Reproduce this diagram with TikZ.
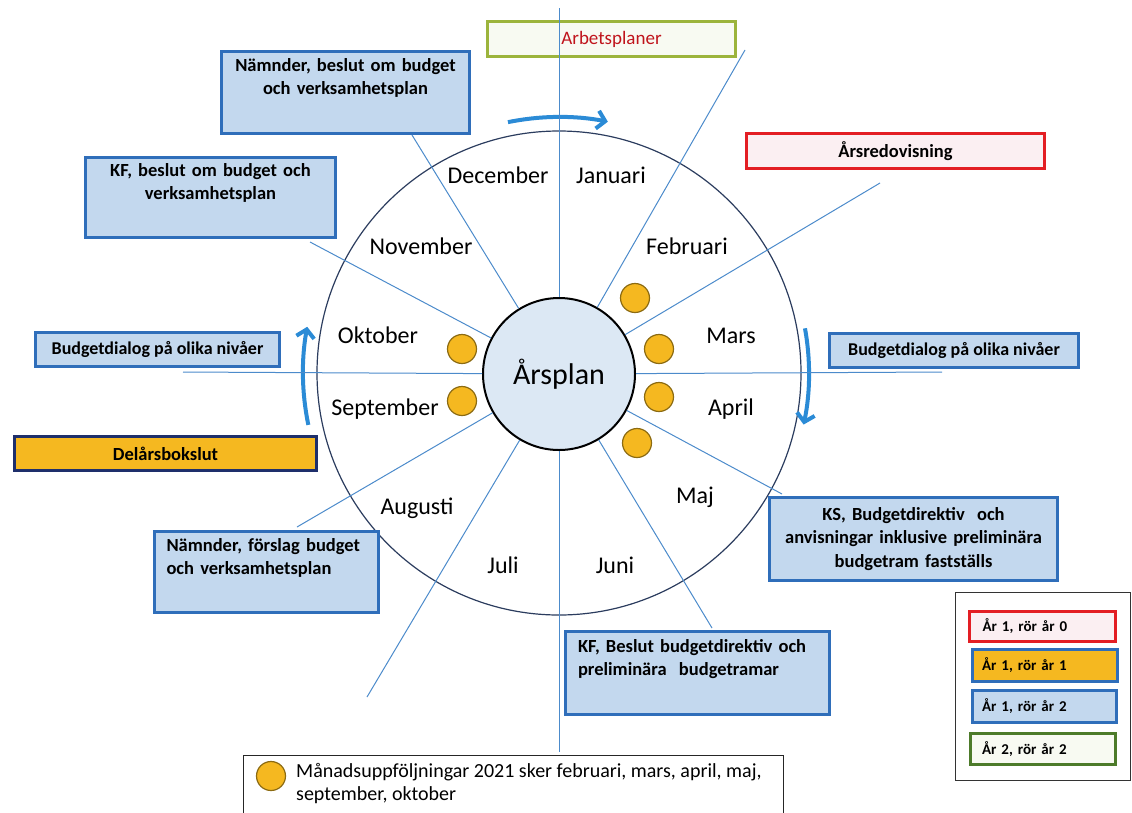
\documentclass[tikz,border=0pt]{standalone}
\usepackage{fontspec}
\setmainfont{Carlito}
\usetikzlibrary{arrows.meta,calc}

\definecolor{boxfill}{HTML}{C3D8EE}
\definecolor{boxedge}{HTML}{2F6EBA}
\definecolor{spoke}{HTML}{4C8BCB}
\definecolor{rim}{HTML}{2B3C5E}
\definecolor{cycblue}{HTML}{2B8BD6}
\definecolor{gold}{HTML}{F5B820}
\definecolor{dotedge}{HTML}{8C6B12}
\definecolor{navy}{HTML}{1E2F6B}
\definecolor{alarm}{HTML}{E31E24}
\definecolor{blush}{HTML}{FBEFF2}
\definecolor{olive}{HTML}{9CB43C}
\definecolor{paleg}{HTML}{F8FAF2}
\definecolor{darkgreen}{HTML}{4D7B2A}
\definecolor{textred}{HTML}{C0141C}
\definecolor{hubfill}{HTML}{DCE8F4}

\tikzset{
  month/.style={anchor=base, font=\fontsize{24}{28}\selectfont},
  boxtext/.style={font=\bfseries\fontsize{18.5}{23.5}\selectfont},
  bluebox/.style={draw=boxedge, fill=boxfill, line width=3pt, boxtext},
  legtext/.style={font=\bfseries\fontsize{15}{18}\selectfont, align=left},
  dot/.style={circle, draw=dotedge, fill=gold, line width=1.2pt, minimum size=29pt, inner sep=0pt},
  spokeline/.style={draw=spoke, line width=1pt},
  cyc/.style={draw=cycblue, line width=4pt, -{Straight Barb[length=8pt, width=18pt]}}
}

\begin{document}
\begin{tikzpicture}[x=1pt, y=-1pt]
  \useasboundingbox (0,0) rectangle (1132,812);
  \coordinate (c) at (559,373);
  \draw[rim, line width=1.2pt] (c) circle (242);
  \node[circle, draw, line width=2pt, fill=hubfill, minimum size=152pt, inner sep=0pt,
        font=\fontsize{30}{34}\selectfont] (ars) at (559,374) {Årsplan};

  \coordinate (e0) at (942,372);
  \coordinate (e30) at (880,183);
  \coordinate (e60) at (745,50);
  \coordinate (e90) at (559,8);
  \coordinate (e120) at (412,135);
  \coordinate (e150) at (310,242);
  \coordinate (e180) at (183,372);
  \coordinate (e210) at (297,527);
  \coordinate (e240) at (367,697);
  \coordinate (e270) at (559,752);
  \coordinate (e300) at (712,628);
  \coordinate (e330) at (782,494);

  \node[month] (dec) at (498,183) {December};
  \node[month] (jan) at (611,183) {Januari};
  \node[month] (nov) at (421,254) {November};
  \node[month] (feb) at (687,254) {Februari};
  \node[month] (okt) at (378,343) {Oktober};
  \node[month] (mar) at (731,343) {Mars};
  \node[month] (sep) at (385,415) {September};
  \node[month] (apr) at (731,415) {April};
  \node[month] (aug) at (417,514) {Augusti};
  \node[month] (maj) at (695,503) {Maj};
  \node[month] (jul) at (503,573) {Juli};
  \node[month] (jun) at (615,573) {Juni};

  \node[dot] (d-feb) at (635,298) {};
  \node[dot] (d-mar) at (659,349) {};
  \node[dot] (d-apr) at (659,397) {};
  \node[dot] (d-maj) at (637,443) {};
  \node[dot] (d-okt) at (462,349) {};
  \node[dot] (d-sep) at (462,401) {};

  \draw[cyc] ($(c)+(-101.5:256)$) arc[start angle=-101.5, end angle=-79, radius=256];
  \draw[cyc] ($(c)+(-191.7:256)$) arc[start angle=-191.7, end angle=-169.6, radius=256];
  \draw[cyc] ($(c)+(-10.3:250)$) arc[start angle=-10.3, end angle=11.9, radius=250];

  \node[draw=olive, fill=paleg, line width=2.5pt, text=textred, minimum width=248pt, minimum height=35pt,
        font=\fontsize{19}{23}\selectfont] (arb) at (611.5,39) {Arbetsplaner};
  \node[bluebox, minimum width=248pt, minimum height=82pt, text width=232pt, align=center] (nbeslut)
    at (345.5,92) {Nämnder, beslut om budget\\och verksamhetsplan\\\strut};
  \node[bluebox, minimum width=250pt, minimum height=80pt, text width=236pt, align=center] (kfbeslut)
    at (210.5,197) {KF, beslut om budget och\\verksamhetsplan\\\strut};
  \node[draw=alarm, fill=blush, line width=3pt, minimum width=298pt, minimum height=35pt, boxtext] (arsred)
    at (895.5,151) {Årsredovisning};
  \node[bluebox, minimum width=244pt, minimum height=34pt, font=\bfseries\fontsize{18}{22}\selectfont] (bdleft)
    at (157.5,349.5) {Budgetdialog på olika nivåer};
  \node[bluebox, minimum width=249pt, minimum height=34pt, font=\bfseries\fontsize{18}{22}\selectfont] (bdright)
    at (954,350.5) {Budgetdialog på olika nivåer};
  \node[draw=navy, fill=gold, line width=3pt, minimum width=302pt, minimum height=34pt, boxtext] (delar)
    at (165.5,453.5) {Delårsbokslut};
  \node[bluebox, minimum width=288pt, minimum height=83pt, text width=272pt, align=center] (ks)
    at (913.5,539) {KS, Budgetdirektiv~ och\\anvisningar inklusive preliminära\\budgetram fastställs};
  \node[bluebox, minimum width=224pt, minimum height=81pt, text width=200pt, inner xsep=10pt, align=left] (nforslag)
    at (266.5,572) {Nämnder, förslag budget\\och verksamhetsplan\\\strut};
  \node[bluebox, minimum width=264pt, minimum height=83pt, text width=239pt, inner xsep=10pt, align=left] (kfdir)
    at (697.5,673) {KF, Beslut budgetdirektiv och\\preliminära~ budgetramar\\\strut};

  \node[draw=black!80, line width=1pt, minimum width=175pt, minimum height=188pt] (legend) at (1043,686.5) {};
  \node[draw=alarm, fill=blush, line width=3pt, minimum width=146pt, minimum height=30pt, text width=120pt, legtext]
    (leg-a) at (1042.5,626.5) {År 1, rör år 0};
  \node[draw=boxedge, fill=gold, line width=3pt, minimum width=145pt, minimum height=32pt, text width=126pt, legtext]
    (leg-b) at (1045,665.5) {År 1, rör år 1};
  \node[draw=boxedge, fill=boxfill, line width=3pt, minimum width=144pt, minimum height=32pt, text width=125pt, legtext]
    (leg-c) at (1044.5,706.5) {År 1, rör år 2};
  \node[draw=darkgreen, fill=paleg, line width=3pt, minimum width=145pt, minimum height=31pt, text width=122pt, legtext]
    (leg-d) at (1043,749) {År 2, rör år 2};

  \node[draw=black!85, line width=1pt, minimum width=540pt, minimum height=85pt] (note) at (513,797.5) {};
  \node[dot] (d-note) at (271,776) {};
  \node[anchor=north west, inner sep=0pt, align=left, font=\fontsize{20}{23}\selectfont] (notetext)
    at (296,763) {Månadsuppföljningar 2021 sker februari, mars, april, maj,\\september, oktober};

  \foreach \a in {0,30,...,330}
    \draw[spokeline] (ars) -- (e\a);
\end{tikzpicture}
\end{document}
